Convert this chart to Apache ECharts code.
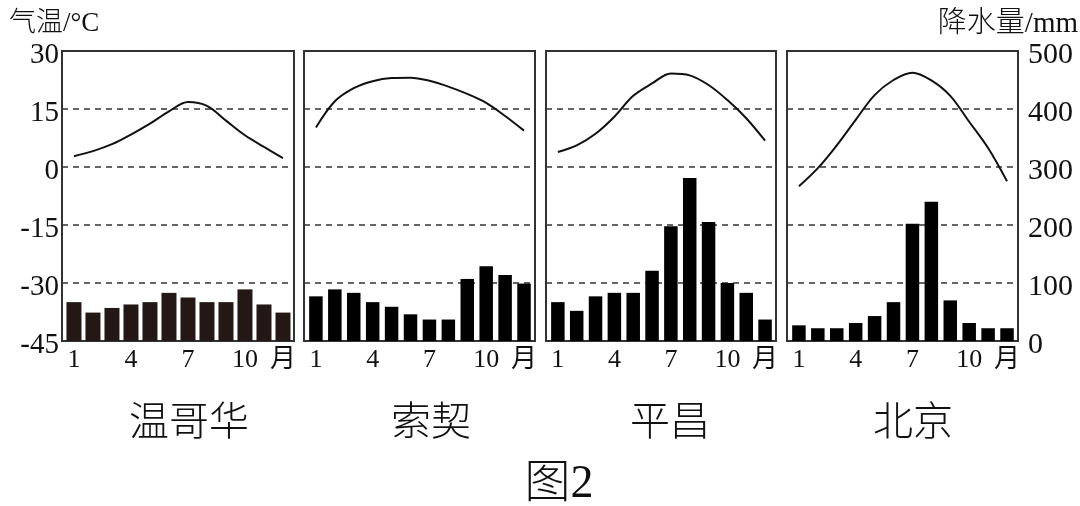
<!DOCTYPE html>
<html><head><meta charset="utf-8">
<style>html,body{margin:0;padding:0;background:#fff}#c{width:1080px;height:506px}</style>
<script src="https://cdn.jsdelivr.net/npm/echarts@6/dist/echarts.min.js"></script></head>
<body><div id="c"></div>
<script>
const months=[1,2,3,4,5,6,7,8,9,10,11,12];
const tickMonths=[1,4,7,10,12];
const cities=['温哥华','索契','平昌','北京'];
const tempVancouver=[2.8,4.1,5.9,8.4,11.2,14.4,16.8,15.8,12,8.2,5.2,2.3];
const tempSochi=[10.2,17,20.4,22.2,23,23.1,22.3,20.8,18.9,16.6,13.2,9.4];
const tempPyeongchang=[3.9,5.6,8.6,13,18.4,21.6,24.2,23.7,21.2,17.3,12.6,6.8];
const tempBeijing=[-5,-0.3,5.6,12.2,18.6,22.5,24.4,22.4,18.4,11.7,4.9,-3.7];
const rainVancouver=[67,49,57,63,67,83,75,67,67,89,63,49];
const rainSochi=[77,89,83,67,59,46,37,37,107,129,114,99];
const rainPyeongchang=[67,52,77,83,83,121,198,281,205,100,83,37];
const rainBeijing=[27,22,22,31,43,67,202,240,70,31,22,22];
const temps=[tempVancouver,tempSochi,tempPyeongchang,tempBeijing];
const rains=[rainVancouver,rainSochi,rainPyeongchang,rainBeijing];
const lefts=[62,304,546,787], widths=[232,231,230,231];
const barColors=['#231815','#000','#000','#000'], barW=[15,13.5,13.5,13.5];
const titleX=[189,431,670,913];
const FONT='"Liberation Serif","Noto Sans CJK SC",serif';
const grid=[],xAxis=[],yAxis=[],series=[],title=[];
cities.forEach((c,i)=>{
  grid.push({left:lefts[i],top:51,width:widths[i],height:290,show:true,borderColor:'#333',borderWidth:2,backgroundColor:'transparent'});
  xAxis.push({type:'value',gridIndex:i,min:0.37,max:12.58,splitLine:{show:false},axisLine:{show:false},axisTick:{show:false},
    axisLabel:{customValues:tickMonths,formatter:v=>v===12?'月':String(v),fontFamily:FONT,fontSize:26,color:'#111',margin:6,hideOverlap:false}});
  yAxis.push({type:'value',gridIndex:i,min:-45,max:30,interval:15,position:'left',axisLine:{show:false},axisTick:{show:false},
    splitLine:{show:true,lineStyle:{type:[6,5],color:'#333',width:1.5}},
    axisLabel:{show:i===0,fontFamily:FONT,fontSize:29,color:'#111',margin:3,verticalAlign:'top',lineHeight:8,hideOverlap:false}});
  yAxis.push({type:'value',gridIndex:i,min:0,max:500,interval:100,position:'right',axisLine:{show:false},axisTick:{show:false},splitLine:{show:false},
    axisLabel:{show:i===3,fontFamily:FONT,fontSize:30,color:'#111',margin:10,verticalAlign:'top',lineHeight:8,hideOverlap:false}});
  series.push({type:'bar',xAxisIndex:i,yAxisIndex:2*i+1,barWidth:barW[i],itemStyle:{color:barColors[i]},silent:true,z:3,
    data:months.map((m,k)=>[m,rains[i][k]])});
  series.push({type:'line',xAxisIndex:i,yAxisIndex:2*i,smooth:0.35,symbol:'none',lineStyle:{color:'#111',width:2},silent:true,z:4,
    data:months.map((m,k)=>[m,temps[i][k]])});
  title.push({text:c,left:titleX[i],top:404,padding:0,textAlign:'center',textStyle:{fontFamily:FONT,fontSize:40,fontWeight:300,color:'#111'}});
});
title.push({text:'气温/°C',left:9,top:10,padding:0,textStyle:{fontFamily:FONT,fontSize:27,fontWeight:300,color:'#111'}});
title.push({text:'降水量/mm',right:2,top:10,padding:0,textStyle:{fontFamily:FONT,fontSize:29,fontWeight:300,color:'#111'}});
title.push({text:'图2',left:559,top:462,padding:0,textAlign:'center',textStyle:{fontFamily:FONT,fontSize:46,fontWeight:300,color:'#111'}});
const chart=echarts.init(document.getElementById('c'),null,{renderer:'canvas'});
chart.setOption({animation:false,backgroundColor:'#fff',grid,xAxis,yAxis,series,title});
</script></body></html>
